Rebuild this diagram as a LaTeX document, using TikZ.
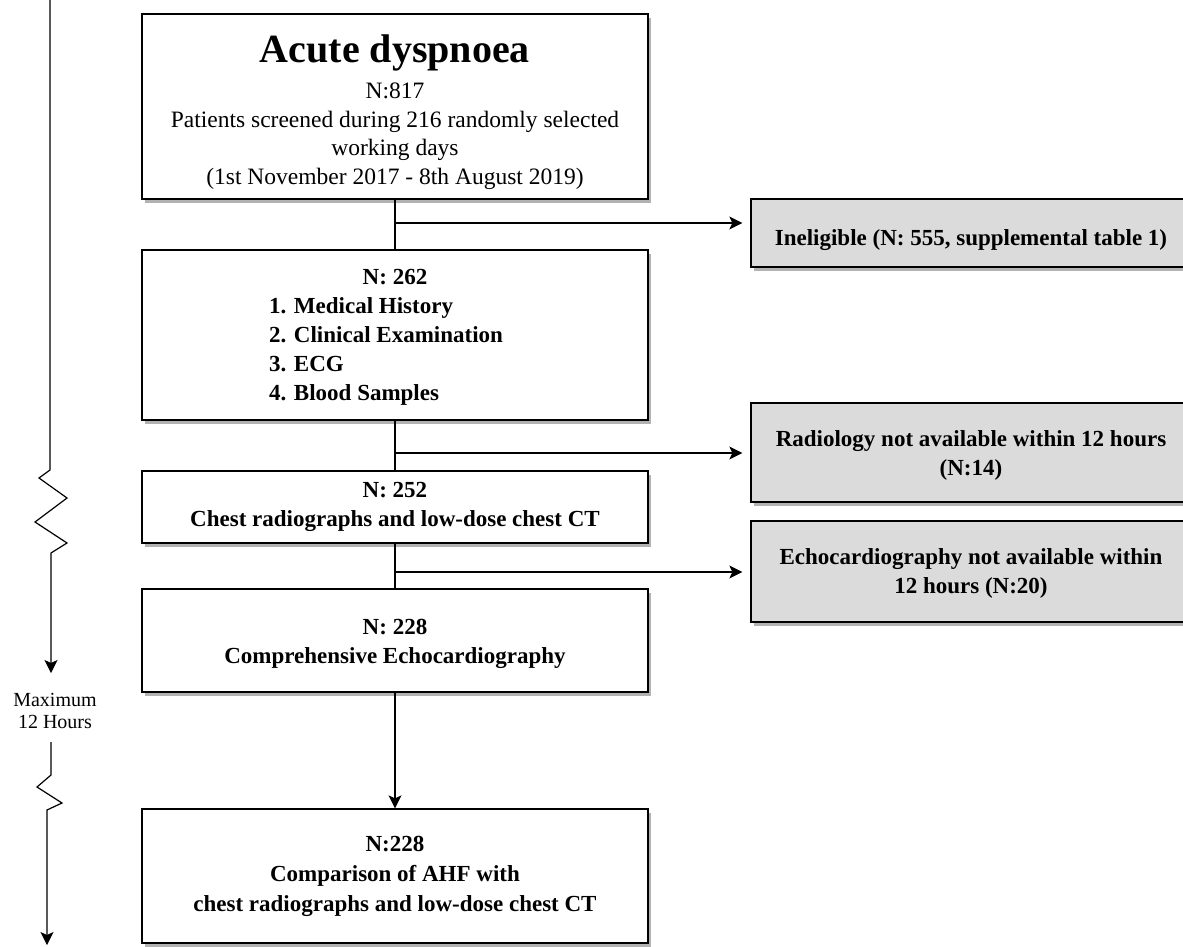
\documentclass[tikz,border=0pt]{standalone}
\usepackage{fontspec}
\setmainfont{Liberation Serif}
\usetikzlibrary{positioning,arrows.meta,shadows}
\tikzset{
mainbox/.style={
  draw,
  rectangle,
  line width=1.3pt,
  fill=white,
  align=center,
  minimum width=506,
  font=\fontsize{23}{29}\selectfont\bfseries,
  drop shadow={shadow xshift=3pt, shadow yshift=-4pt, fill=black!30, opacity=1}
  },
sidebox/.style={mainbox, fill=black!14, minimum width=440},
line/.style={draw, line width=1.2pt},
arrow/.style={line, -{Stealth[length=13pt,width=13pt,inset=3pt]}}
}

\begin{document}
\begin{tikzpicture}[x=1pt,y=1pt,yscale=-1,xscale=1]
\useasboundingbox (0,0) rectangle (1183,947);

% main column
\node[mainbox, minimum height=185, font=\fontsize{23.5}{28.5}\selectfont] (dysp) at (395,106.5) {\rule{0pt}{39pt}{\bfseries\fontsize{40}{44}\selectfont Acute dyspnoea}\\[8pt]
  N:817\\
  Patients screened during 216 randomly selected\\
  working days\\
  (1st November 2017 - 8th August 2019)};
\node[mainbox, minimum height=170] (hist) at (395,335) {\rule{0pt}{23pt}N: 262\\
  \begin{tabular}[t]{@{}l@{}}1. Medical History\\ 2. Clinical Examination\\ 3. ECG\\ 4. Blood Samples\end{tabular}\hspace*{18pt}};
\node[mainbox, minimum height=72] (radio) at (395,507) {N: 252\\ Chest radiographs and low-dose chest CT};
\node[mainbox, minimum height=103] (echo) at (395,640.5) {\rule{0pt}{22pt}N: 228\\ Comprehensive Echocardiography};
\node[mainbox, minimum height=134, font=\fontsize{23}{30}\selectfont\bfseries] (comp) at (395,876) {N:228\\ Comparison of AHF with\\ chest radiographs and low-dose chest CT};

% excluded
\node[sidebox, minimum height=68] (inel) at (971,233) {\rule{0pt}{30pt}Ineligible (N: 555, supplemental table 1)};
\node[sidebox, minimum height=99] (radna) at (971,452.5) {\rule{0pt}{22pt}Radiology not available within 12 hours\\ (N:14)};
\node[sidebox, minimum height=101] (echona) at (971,571.5) {\rule{0pt}{20pt}Echocardiography not available within\\ 12 hours (N:20)};

\coordinate (b1) at (395,223);
\coordinate (b2) at (395,453);
\coordinate (b3) at (395,572);

\draw[line] (dysp.south) -- (hist.north);
\draw[line] (hist.south) -- (radio.north);
\draw[line] (radio.south) -- (echo.north);
\draw[arrow] (echo.south) -- (comp.north);
\draw[arrow, shorten >=8pt] (b1) -- (b1 -| inel.west);
\draw[arrow, shorten >=8pt] (b2) -- (b2 -| radna.west);
\draw[arrow, shorten >=8pt] (b3) -- (b3 -| echona.west);

% time line
\node[align=center, inner sep=1pt, font=\fontsize{20}{22}\selectfont] (maxh) at (55,711) {Maximum\\12 Hours};
\coordinate (t0) at (50,0);
\coordinate (t1) at (51,673);
\coordinate (t2) at (51,742);
\coordinate (t3) at (47,945);
\draw[arrow] (t0) -- (50,470) -- (39,478) -- (67,498) -- (35,522) -- (67,543) -- (51,553) -- (t1);
\draw[arrow] (t2) -- (51,775) -- (37,787) -- (62,803) -- (47,810) -- (t3);

\end{tikzpicture}
\end{document}
